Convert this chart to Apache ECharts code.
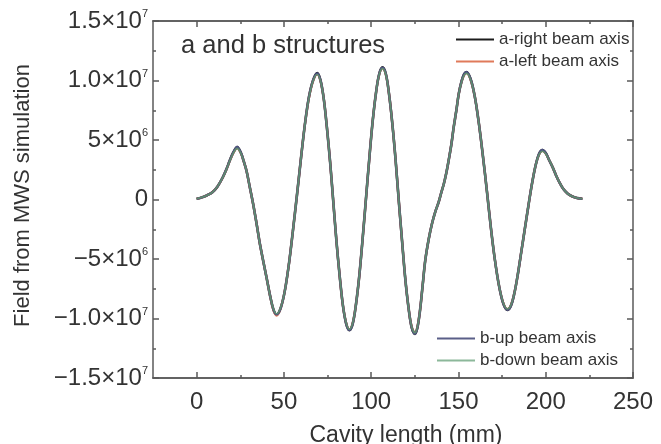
<!DOCTYPE html>
<html><head><meta charset="utf-8">
<script src="https://cdn.jsdelivr.net/npm/echarts@6/dist/echarts.min.js"></script>
<style>html,body{margin:0;padding:0;background:#fff}#c{width:661px;height:444px}</style>
</head><body><div id="c"></div>
<script>
// Cavity length (mm)
const xValues = [0,3,6,9,12,15,17,19,21,23.2,25.3,27,28.6,30.5,32.4,34.3,36.2,38.2,40.1,42.1,44,45.8,48.1,50.5,52.8,55.1,57.5,59.8,62.1,64.4,66.8,69.1,70.9,72.8,74.6,76.5,78.3,80.1,82,83.8,85.7,87.5,89.4,91.3,93.2,95.1,97,98.9,100.8,102.7,104.6,106.5,108.4,110.2,112.1,114,115.8,117.7,119.5,121.4,123.2,125.1,126.5,128,129.5,131,133,134.9,136.8,138.7,140.2,141.6,143,144.4,145.9,147.3,148.8,150.2,151.8,153.3,154.6,156.9,159.3,161.6,163.9,166.3,168.6,170.9,173.3,175.7,178,180,182,184,186,188.1,190.1,192.1,194.1,196.1,198.1,200,202,204,206,208,210,212.5,215,218,221];
// Field values for each beam axis
const aRight = [0.06e6,0.18e6,0.36e6,0.6e6,1.1e6,1.87e6,2.52e6,3.28e6,3.95e6,4.4e6,3.95e6,3.2e6,2.4e6,1.0e6,-0.4e6,-2.0e6,-3.7e6,-5.2e6,-6.6e6,-8.1e6,-9.25e6,-9.68e6,-9.15e6,-7.7e6,-5.5e6,-2.7e6,0.4e6,3.5e6,6.4e6,8.65e6,10.05e6,10.62e6,10.05e6,8.5e6,6.1e6,3.1e6,-0.2e6,-3.5e6,-6.5e6,-8.9e6,-10.45e6,-10.98e6,-10.45e6,-8.8e6,-6.4e6,-3.3e6,0.05e6,3.4e6,6.5e6,8.9e6,10.55e6,11.1e6,10.55e6,8.9e6,6.4e6,3.3e6,-0.1e6,-3.5e6,-6.6e6,-9.1e6,-10.75e6,-11.3e6,-10.75e6,-9.3e6,-7.2e6,-5.1e6,-3.3e6,-2.0e6,-1.0e6,-0.2e6,0.6e6,1.3e6,2.2e6,3.3e6,4.6e6,6.1e6,7.5e6,8.9e6,9.95e6,10.55e6,10.72e6,10.15e6,8.7e6,6.5e6,3.8e6,0.7e6,-2.4e6,-5.1e6,-7.3e6,-8.75e6,-9.28e6,-8.95e6,-7.9e6,-6.3e6,-4.4e6,-2.4e6,-0.5e6,1.3e6,2.8e6,3.8e6,4.15e6,3.9e6,3.3e6,2.7e6,2.0e6,1.4e6,0.9e6,0.5e6,0.27e6,0.12e6,0.06e6];
const aLeft = [0.06e6,0.18e6,0.36e6,0.6e6,1.1e6,1.85e6,2.5e6,3.25e6,3.9e6,4.32e6,3.9e6,3.2e6,2.4e6,1.0e6,-0.4e6,-2.0e6,-3.7e6,-5.2e6,-6.6e6,-8.1e6,-9.3e6,-9.75e6,-9.15e6,-7.7e6,-5.5e6,-2.7e6,0.4e6,3.5e6,6.4e6,8.6e6,10.0e6,10.52e6,10.0e6,8.5e6,6.1e6,3.1e6,-0.2e6,-3.5e6,-6.5e6,-8.9e6,-10.4e6,-10.92e6,-10.4e6,-8.8e6,-6.4e6,-3.3e6,0.05e6,3.4e6,6.5e6,8.9e6,10.5e6,11.02e6,10.5e6,8.9e6,6.4e6,3.3e6,-0.1e6,-3.5e6,-6.6e6,-9.1e6,-10.7e6,-11.24e6,-10.7e6,-9.3e6,-7.2e6,-5.1e6,-3.3e6,-2.0e6,-1.0e6,-0.2e6,0.6e6,1.3e6,2.2e6,3.3e6,4.6e6,6.1e6,7.5e6,8.9e6,9.9e6,10.45e6,10.62e6,10.1e6,8.7e6,6.5e6,3.8e6,0.7e6,-2.4e6,-5.1e6,-7.3e6,-8.7e6,-9.22e6,-8.9e6,-7.9e6,-6.3e6,-4.4e6,-2.4e6,-0.5e6,1.3e6,2.8e6,3.75e6,4.08e6,3.85e6,3.3e6,2.7e6,2.0e6,1.4e6,0.9e6,0.5e6,0.27e6,0.12e6,0.06e6];
const bUp = [0.06e6,0.18e6,0.36e6,0.6e6,1.1e6,1.87e6,2.52e6,3.28e6,3.95e6,4.42e6,3.95e6,3.2e6,2.4e6,1.0e6,-0.4e6,-2.0e6,-3.7e6,-5.2e6,-6.6e6,-8.1e6,-9.25e6,-9.66e6,-9.15e6,-7.7e6,-5.5e6,-2.7e6,0.4e6,3.5e6,6.4e6,8.65e6,10.05e6,10.6e6,10.05e6,8.5e6,6.1e6,3.1e6,-0.2e6,-3.5e6,-6.5e6,-8.9e6,-10.45e6,-10.97e6,-10.45e6,-8.8e6,-6.4e6,-3.3e6,0.05e6,3.4e6,6.5e6,8.9e6,10.55e6,11.08e6,10.55e6,8.9e6,6.4e6,3.3e6,-0.1e6,-3.5e6,-6.6e6,-9.1e6,-10.75e6,-11.28e6,-10.75e6,-9.3e6,-7.2e6,-5.1e6,-3.3e6,-2.0e6,-1.0e6,-0.2e6,0.6e6,1.3e6,2.2e6,3.3e6,4.6e6,6.1e6,7.5e6,8.9e6,9.95e6,10.55e6,10.7e6,10.15e6,8.7e6,6.5e6,3.8e6,0.7e6,-2.4e6,-5.1e6,-7.3e6,-8.75e6,-9.27e6,-8.95e6,-7.9e6,-6.3e6,-4.4e6,-2.4e6,-0.5e6,1.3e6,2.8e6,3.8e6,4.17e6,3.9e6,3.3e6,2.7e6,2.0e6,1.4e6,0.9e6,0.5e6,0.27e6,0.12e6,0.06e6];
const bDown = [0.06e6,0.18e6,0.36e6,0.6e6,1.1e6,1.85e6,2.5e6,3.25e6,3.9e6,4.3e6,3.9e6,3.2e6,2.4e6,1.0e6,-0.4e6,-2.0e6,-3.7e6,-5.2e6,-6.6e6,-8.1e6,-9.2e6,-9.6e6,-9.1e6,-7.7e6,-5.5e6,-2.7e6,0.4e6,3.5e6,6.4e6,8.6e6,10.0e6,10.5e6,10.0e6,8.5e6,6.1e6,3.1e6,-0.2e6,-3.5e6,-6.5e6,-8.9e6,-10.4e6,-10.9e6,-10.4e6,-8.8e6,-6.4e6,-3.3e6,0.05e6,3.4e6,6.5e6,8.9e6,10.5e6,11.0e6,10.5e6,8.9e6,6.4e6,3.3e6,-0.1e6,-3.5e6,-6.6e6,-9.1e6,-10.7e6,-11.2e6,-10.7e6,-9.3e6,-7.2e6,-5.1e6,-3.3e6,-2.0e6,-1.0e6,-0.2e6,0.6e6,1.3e6,2.2e6,3.3e6,4.6e6,6.1e6,7.5e6,8.9e6,9.9e6,10.45e6,10.6e6,10.1e6,8.7e6,6.5e6,3.8e6,0.7e6,-2.4e6,-5.1e6,-7.3e6,-8.7e6,-9.2e6,-8.9e6,-7.9e6,-6.3e6,-4.4e6,-2.4e6,-0.5e6,1.3e6,2.8e6,3.75e6,4.06e6,3.85e6,3.3e6,2.7e6,2.0e6,1.4e6,0.9e6,0.5e6,0.27e6,0.12e6,0.06e6];

const seriesNames = ['a-right beam axis','a-left beam axis','b-up beam axis','b-down beam axis'];
const seriesColors = ['#1c1c1c','#e07a5a','#4d5282','#5f8c6f'];
const legendColors = ['#1c1c1c','#e07a5a','#5a5f88','#8cb89a'];
const seriesWidths = [2.6,2.3,2.3,1.6];

const xMajorTicks = [0,50,100,150,200,250];
const xMinorTicks = [25,75,125,175,225];
const yTickValues = [-1.5e7,-1.0e7,-5e6,0,5e6,1.0e7,1.5e7];
const yTickMantissa = ['\u22121.5\u00d710','\u22121.0\u00d710','\u22125\u00d710','0','5\u00d710','1.0\u00d710','1.5\u00d710'];
const yTickExponent = ['7','7','6','','6','7','7'];

const FONT = '"Liberation Sans", Arial, Helvetica, sans-serif';
const AX = '#5a5a5a';
const TXT = '#333';

function xAxisCfg(pos, ticks, len, withLabels) {
  return {
    type: 'value', position: pos, min: -25, max: 250,
    axisLine: {show: true, onZero: false, lineStyle: {color: AX, width: 1.5}},
    axisTick: {show: true, inside: true, length: len, customValues: ticks, lineStyle: {color: AX, width: 1.5}},
    axisLabel: withLabels ? {show: true, customValues: xMajorTicks, fontSize: 24, color: TXT, fontFamily: FONT, margin: 12} : {show: false},
    splitLine: {show: false},
    name: withLabels ? 'Cavity length (mm)' : '',
    nameLocation: 'middle', nameGap: 46,
    nameTextStyle: {fontSize: 23, color: TXT, fontFamily: FONT, padding: [0, 0, 0, 26]}
  };
}
function yAxisCfg(pos, withLabels) {
  return {
    type: 'value', position: pos, min: -1.5e7, max: 1.5e7, interval: 5e6,
    axisLine: {show: true, onZero: false, lineStyle: {color: AX, width: 1.5}},
    axisTick: {show: true, inside: true, length: 6, lineStyle: {color: AX, width: 1.5}},
    minorTick: {show: true, splitNumber: 2, length: 3, lineStyle: {color: AX, width: 1.5}},
    splitLine: {show: false},
    axisLabel: withLabels ? {
      show: true, margin: 5, fontFamily: FONT,
      formatter: function (v) {
        const i = yTickValues.findIndex(t => Math.abs(t - v) < 1);
        if (i < 0) return '';
        return '{m|' + yTickMantissa[i] + '}' + (yTickExponent[i] ? '{s|' + yTickExponent[i] + '}' : '');
      },
      rich: {
        m: {fontSize: 24, color: TXT, fontFamily: FONT, lineHeight: 25},
        s: {fontSize: 11, color: TXT, fontFamily: FONT, verticalAlign: 'top', lineHeight: 12}
      }
    } : {show: false},
    name: withLabels ? 'Field from MWS simulation' : '',
    nameLocation: 'middle', nameGap: 119,
    nameTextStyle: {fontSize: 22, color: TXT, fontFamily: FONT, padding: [0, 0, 0, 8]}
  };
}

const seriesData = [aRight, aLeft, bUp, bDown];
const chart = echarts.init(document.getElementById('c'), null, {renderer: 'canvas'});
chart.setOption({
  animation: false,
  backgroundColor: '#fff',
  textStyle: {fontFamily: FONT},
  grid: {left: 153, right: 28, top: 21, bottom: 66, containLabel: false, outerBoundsMode: 'none'},
  title: {text: 'a and b structures', left: 181, top: 33, padding: 0,
    textStyle: {fontSize: 25.5, fontWeight: 'normal', color: TXT, fontFamily: FONT}},
  legend: [
    {data: seriesNames.slice(0, 2).map((n, k) => ({name: n, itemStyle: {color: legendColors[k]}})),
     orient: 'vertical', left: 456, top: 30, padding: 0,
     itemWidth: 38, itemHeight: 2, itemGap: 3, icon: 'rect', selectedMode: false,
     textStyle: {fontSize: 17, color: TXT, fontFamily: FONT, lineHeight: 19}},
    {data: seriesNames.slice(2, 4).map((n, k) => ({name: n, itemStyle: {color: legendColors[k + 2]}})),
     orient: 'vertical', left: 437, top: 329, padding: 0,
     itemWidth: 38, itemHeight: 2, itemGap: 3, icon: 'rect', selectedMode: false,
     textStyle: {fontSize: 17, color: TXT, fontFamily: FONT, lineHeight: 19}}
  ],
  xAxis: [
    xAxisCfg('bottom', xMajorTicks, 6, true),
    xAxisCfg('bottom', xMinorTicks, 3, false),
    xAxisCfg('top', xMajorTicks, 6, false),
    xAxisCfg('top', xMinorTicks, 3, false)
  ],
  yAxis: [yAxisCfg('left', true), yAxisCfg('right', false)],
  series: seriesNames.map((name, k) => ({
    name: name, type: 'line', xAxisIndex: 0, yAxisIndex: 0,
    showSymbol: false, symbol: 'none', smooth: 0.35,
    color: seriesColors[k],
    lineStyle: {color: seriesColors[k], width: seriesWidths[k]},
    itemStyle: {color: seriesColors[k]},
    data: xValues.map((x, i) => [x, seriesData[k][i]])
  }))
});
</script></body></html>
